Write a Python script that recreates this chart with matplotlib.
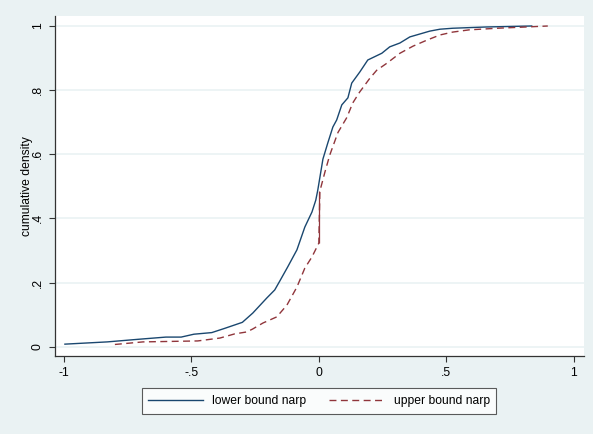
import matplotlib.pyplot as plt

plt.rcParams['font.family'] = ['Liberation Sans', 'DejaVu Sans']

# values
lower_x = [-0.996, -0.83, -0.71, -0.60, -0.54, -0.49, -0.42, -0.37, -0.30, -0.259,
           -0.204, -0.173, -0.153, -0.122, -0.086, -0.055, -0.027, -0.012, -0.004,
           0.016, 0.035, 0.055, 0.07, 0.09, 0.114, 0.129, 0.161, 0.192, 0.247,
           0.278, 0.318, 0.357, 0.396, 0.435, 0.475, 0.525, 0.659, 0.835]
lower_y = [0.008, 0.015, 0.023, 0.03, 0.03, 0.039, 0.044, 0.057, 0.076, 0.105,
           0.152, 0.177, 0.205, 0.249, 0.302, 0.373, 0.42, 0.457, 0.489,
           0.585, 0.635, 0.685, 0.707, 0.754, 0.776, 0.822, 0.857, 0.894, 0.915,
           0.935, 0.947, 0.966, 0.975, 0.984, 0.99, 0.993, 0.997, 1.0]

upper_x = [-0.80, -0.69, -0.475, -0.388, -0.33, -0.283, -0.26, -0.219, -0.165,
           -0.125, -0.086, -0.055, -0.027, 0.0,
           0.004, 0.024, 0.043, 0.075, 0.11, 0.133, 0.16, 0.2, 0.227, 0.267,
           0.318, 0.369, 0.424, 0.475, 0.525, 0.59, 0.70, 0.815, 0.898]
upper_y = [0.007, 0.015, 0.018, 0.027, 0.04, 0.046, 0.055, 0.074, 0.093,
           0.13, 0.186, 0.245, 0.28, 0.323,
           0.485, 0.545, 0.598, 0.668, 0.715, 0.76, 0.794, 0.837, 0.862, 0.884,
           0.915, 0.937, 0.956, 0.972, 0.981, 0.988, 0.993, 0.997, 1.0]

# jump of the upper bound at zero
jump_x = 0.0
jump_lo = 0.323
jump_hi = 0.485

xticks = [-1, -0.5, 0, 0.5, 1]
xlabels = ['-1', '-.5', '0', '.5', '1']
yticks = [0, 0.2, 0.4, 0.6, 0.8, 1]
ylabels = ['0', '.2', '.4', '.6', '.8', '1']

bg = '#EAF2F3'
navy = '#1A476F'
maroon = '#90353B'

fig = plt.figure(figsize=(5.93, 4.34), dpi=100, facecolor=bg)
ax = fig.add_axes([0.0927, 0.1797, 0.8921, 0.7833])
ax.set_facecolor('white')

for yt in yticks:
    ax.axhline(yt, color=bg, lw=1.2, zorder=1)

ax.plot(lower_x, lower_y, color=navy, lw=1.0, zorder=3, label='lower bound narp')
ax.plot(upper_x, upper_y, color=maroon, lw=1.0, dashes=(5.0, 3.2), zorder=3,
        label='upper bound narp')
ax.vlines(jump_x, jump_lo, jump_hi, color=maroon, lw=0.9, zorder=3)

ax.set_xlim(-1.035, 1.04)
ax.set_ylim(-0.029, 1.031)

ax.set_xticks(xticks)
ax.set_xticklabels(xlabels)
ax.set_yticks(yticks)
ax.set_yticklabels(ylabels, rotation=90, va='center')
ax.tick_params(axis='both', direction='out', length=4, width=0.8,
               colors='#333333', labelcolor='black', labelsize=8.7, pad=4)

for s in ['top', 'right']:
    ax.spines[s].set_visible(False)
for s in ['left', 'bottom']:
    ax.spines[s].set_color('#333333')
    ax.spines[s].set_linewidth(0.9)

ax.set_ylabel('cumulative density', fontsize=8.7, labelpad=-1)

leg = fig.legend(loc='center', bbox_to_anchor=(319 / 593, 1 - 401 / 434), ncol=2,
                 frameon=True, fancybox=False, fontsize=8.7, handlelength=4.5,
                 handletextpad=0.8, columnspacing=1.9, borderpad=0.55)
leg.get_frame().set_edgecolor('#333333')
leg.get_frame().set_linewidth(0.8)

fig.savefig('out.png', dpi=100, facecolor=bg)
